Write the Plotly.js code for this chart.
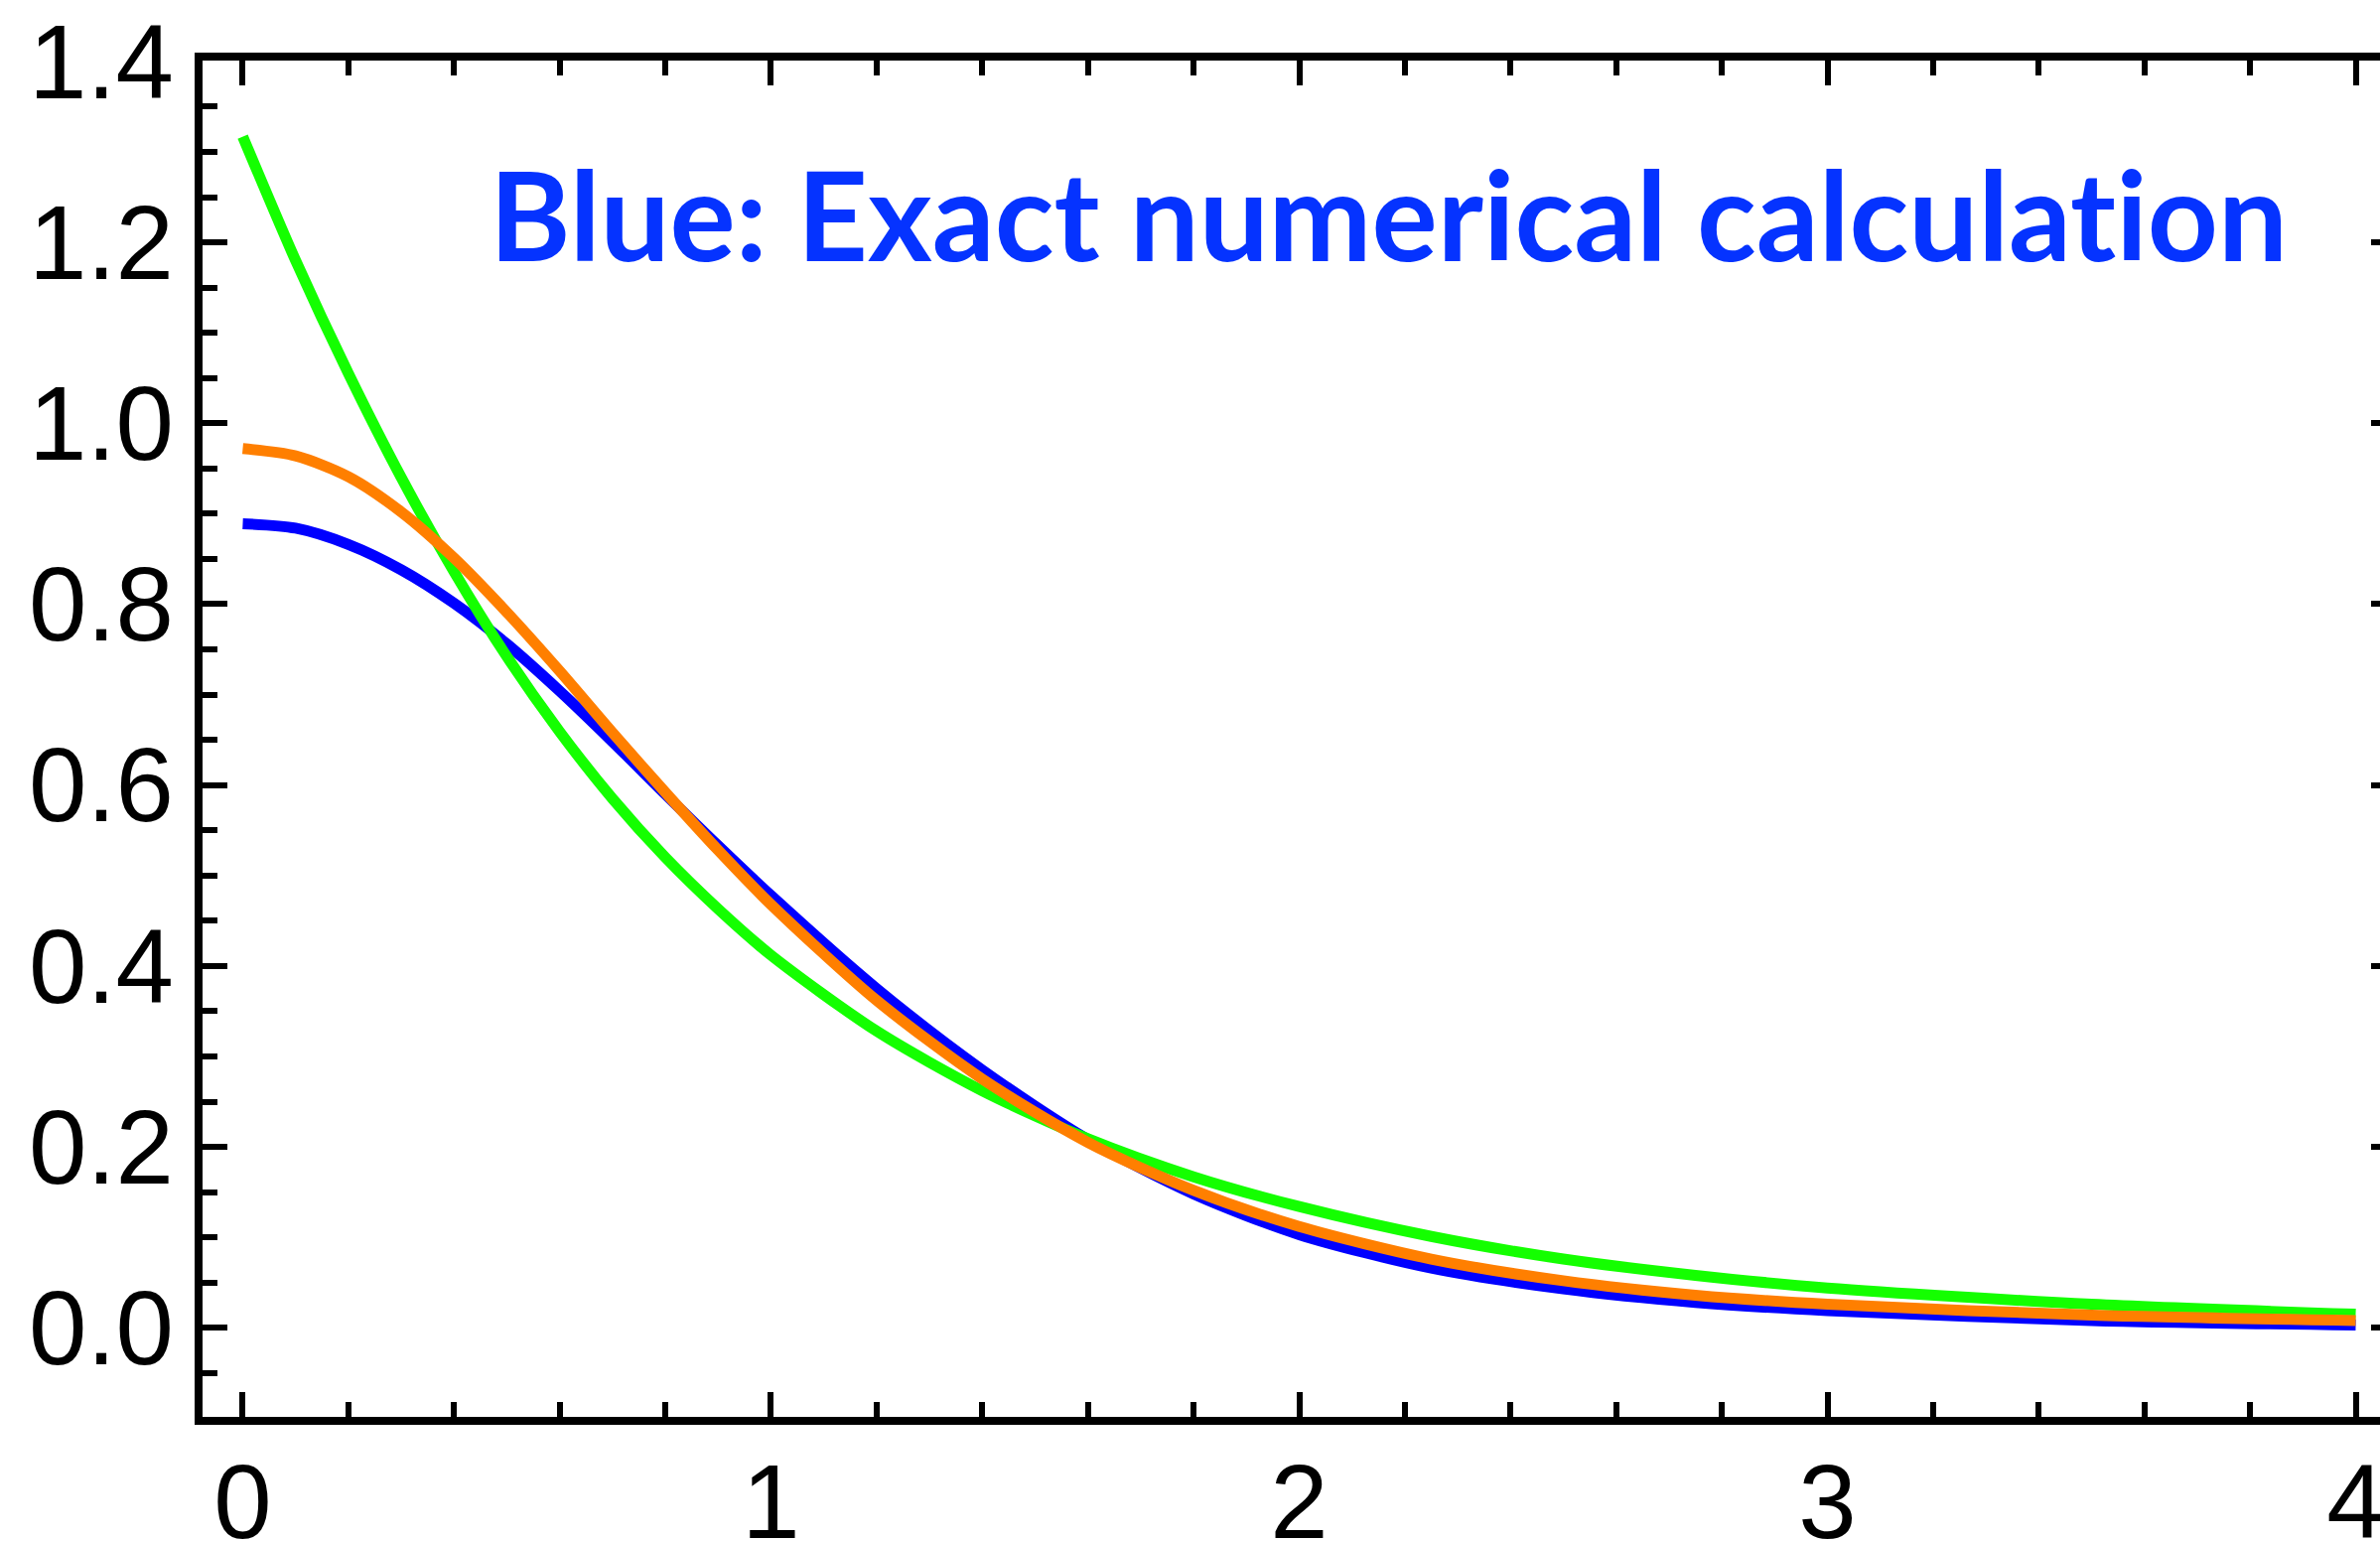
<!DOCTYPE html>
<html>
<head>
<meta charset="utf-8">
<script src="https://cdn.plot.ly/plotly-3.0.1.min.js"></script>
<style>
  html, body { margin: 0; padding: 0; background: #ffffff; overflow: hidden; }
  #chart { width: 2433px; height: 1552px; }
  #chart text { font-variant-ligatures: none; font-feature-settings: "liga" 0, "clig" 0; }
</style>
</head>
<body>
<div id="chart"></div>
<script>
// Sample positions along the horizontal axis
const xs = [0, 0.1, 0.2, 0.3, 0.4, 0.5, 0.6, 0.7, 0.8, 0.9, 1.0, 1.2, 1.4, 1.6, 1.8, 2.0, 2.25, 2.5, 2.75, 3.0, 3.5, 4.0];

// Exact numerical calculation (blue)
const exactVals = [0.889, 0.884, 0.866, 0.838, 0.801, 0.756, 0.704, 0.648, 0.590, 0.533, 0.478,
                   0.375, 0.285, 0.208, 0.148, 0.103, 0.066, 0.043, 0.028, 0.019, 0.008, 0.003];

// Approximation (orange)
const approxOrange = [0.972, 0.964, 0.941, 0.902, 0.851, 0.791, 0.726, 0.658, 0.592, 0.528, 0.468,
                      0.362, 0.275, 0.205, 0.152, 0.112, 0.076, 0.052, 0.036, 0.026, 0.014, 0.008];

// Approximation (green)
const approxGreen = [1.317, 1.180, 1.055, 0.940, 0.836, 0.742, 0.659, 0.585, 0.520, 0.463, 0.412,
                     0.328, 0.262, 0.209, 0.167, 0.134, 0.101, 0.076, 0.058, 0.044, 0.026, 0.015];

const xTicks = [0, 1, 2, 3, 4];
const yTicks = [0.0, 0.2, 0.4, 0.6, 0.8, 1.0, 1.2, 1.4];
const noteText = 'Blue: Exact numerical calculation';

const lineW = 11;
const traces = [
  { x: xs, y: exactVals, mode: 'lines', line: { color: '#0000ff', width: lineW, shape: 'spline', smoothing: 0.8 }, hoverinfo: 'skip' },
  { x: xs, y: approxGreen, mode: 'lines', line: { color: '#14ff00', width: lineW, shape: 'spline', smoothing: 0.8 }, hoverinfo: 'skip' },
  { x: xs, y: approxOrange, mode: 'lines', line: { color: '#ff7f00', width: lineW, shape: 'spline', smoothing: 0.8 }, hoverinfo: 'skip' }
];

const tickFont = { family: 'Liberation Sans, Arial, sans-serif', size: 105, color: '#000000' };

const frameAxis = {
  showline: true, linewidth: 8, linecolor: '#000000', mirror: 'allticks',
  ticks: 'inside', ticklen: 25, tickwidth: 6, tickcolor: '#000000',
  showgrid: false, zeroline: false, tickfont: tickFont
};

const layout = {
  width: 2433, height: 1552,
  margin: { l: 204, r: 20, t: 61, b: 125, pad: 0 },
  paper_bgcolor: '#ffffff', plot_bgcolor: '#ffffff',
  showlegend: false,
  xaxis: Object.assign({}, frameAxis, {
    range: [-0.0761, 4.0761],
    tickmode: 'array', tickvals: xTicks, ticktext: xTicks.map(String),
    ticklabelstandoff: -12,
    minor: { dtick: 0.2, tick0: 0, ticks: 'inside', ticklen: 15, tickwidth: 6, tickcolor: '#000000', showgrid: false }
  }),
  yaxis: Object.assign({}, frameAxis, {
    range: [-0.0985, 1.401],
    tickmode: 'array', tickvals: yTicks, ticktext: yTicks.map(v => v.toFixed(1)),
    minor: { dtick: 0.05, tick0: 0, ticks: 'inside', ticklen: 15, tickwidth: 6, tickcolor: '#000000', showgrid: false }
  }),
  annotations: [{
    xref: 'x', yref: 'y', x: 0.462, y: 1.232, xanchor: 'left', yanchor: 'middle',
    text: '<b>' + noteText + '</b>', showarrow: false,
    font: { family: 'Lato, sans-serif', size: 124, color: '#0533ff' }
  }]
};

Plotly.newPlot('chart', traces, layout, { staticPlot: true, displayModeBar: false });
</script>
</body>
</html>
